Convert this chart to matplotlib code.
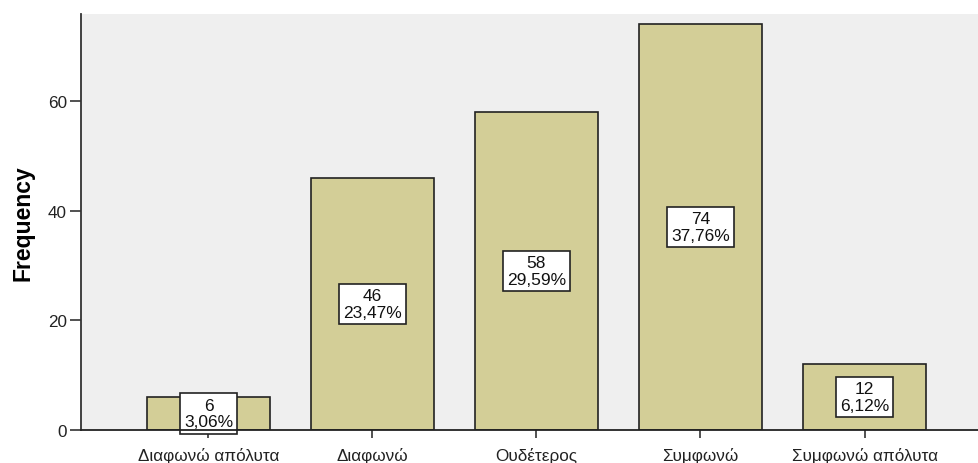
import matplotlib
matplotlib.use("Agg")
import matplotlib.pyplot as plt

categories = ["Διαφωνώ απόλυτα", "Διαφωνώ", "Ουδέτερος", "Συμφωνώ", "Συμφωνώ απόλυτα"]
counts = [6, 46, 58, 74, 12]
percents = ["3,06%", "23,47%", "29,59%", "37,76%", "6,12%"]
yticks = [0, 20, 40, 60]

plt.rcParams['font.family'] = ['Liberation Sans', 'DejaVu Sans']

fig = plt.figure(figsize=(9.79, 4.64), dpi=100)
ax = fig.add_axes([81/979, 33/464, 1 - 81/979, (431-15)/464])
ax.set_facecolor("#efefef")

x = list(range(len(categories)))
ax.bar(x, counts, width=0.75, color="#d3ce97", edgecolor="#222222", linewidth=1.2, zorder=2)

for xi, c, p in zip(x, counts, percents):
    ax.text(xi, c / 2, f"{c}\n{p}", ha="center", va="center", fontsize=12.5,
            linespacing=1.12, zorder=3, color="#111111",
            bbox=dict(boxstyle="square,pad=0.25", facecolor="white", edgecolor="#222222", linewidth=1.2))

ax.set_xlim(-0.777, 4.698)
ax.set_ylim(0, 75.9)
ax.set_xticks(x)
ax.set_xticklabels(categories, fontsize=12.3)
ax.set_yticks(yticks)
ax.tick_params(axis="y", labelsize=12.3, length=8, width=1.2, color="#333333", labelcolor="#222222", pad=2)
ax.tick_params(axis="x", length=6, width=1.2, color="#333333", labelcolor="#222222", pad=6)

for s in ["top", "right"]:
    ax.spines[s].set_visible(False)
ax.spines["left"].set_color("#333333")
ax.spines["bottom"].set_color("#222222")
ax.spines["left"].set_linewidth(1.3)
ax.spines["bottom"].set_linewidth(1.3)
ax.spines["bottom"].set_zorder(4)

ax.set_ylabel("Frequency", fontsize=16.5, fontweight="bold", labelpad=10)

fig.savefig("out.png", dpi=100)
